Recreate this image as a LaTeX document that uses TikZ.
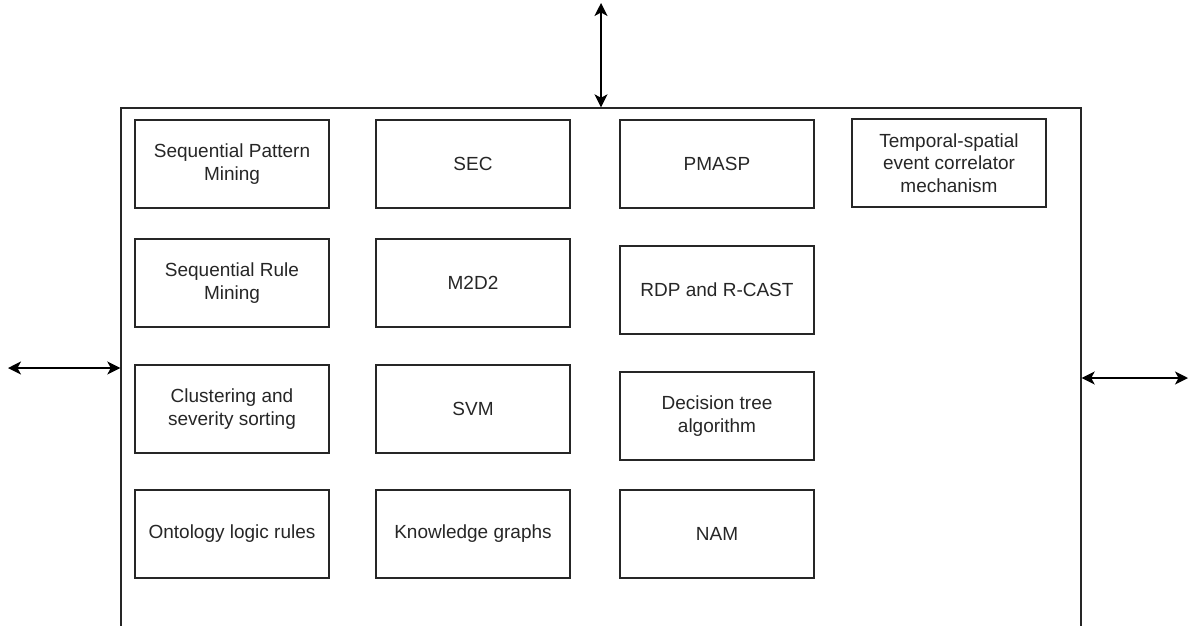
\documentclass[tikz,border=0pt]{standalone}
\usepackage{fontspec}
\setmainfont{Liberation Sans}
\usetikzlibrary{arrows.meta}
\begin{document}
\begin{tikzpicture}[x=1pt,y=-1pt,
  line width=1.4pt,
  box/.style={draw=black!85, minimum width=194pt, minimum height=88pt,
    align=center, inner sep=4pt, text=black!85,
    font=\fontsize{19}{22.5}\selectfont},
  frame/.style={draw=black!85, minimum width=960pt, minimum height=640pt, inner sep=0pt},
  dblarrow/.style={draw=black, line width=1.4pt,
    {Stealth[length=13pt,width=13pt,inset=3.5pt]}-{Stealth[length=13pt,width=13pt,inset=3.5pt]}}]
  \useasboundingbox (0,0) rectangle (1189,625);

  % outer system frame (runs past the lower edge)
  \node[frame] (frame) at (601,428) {};

  % column 1
  \node[box] (spm) at (232,164) {Sequential Pattern\\Mining};
  \node[box] (srm) at (232,283) {Sequential Rule\\Mining};
  \node[box] (css) at (232,409) {Clustering and\\severity sorting};
  \node[box] (olr) at (232,534) {Ontology logic rules};

  % column 2
  \node[box] (sec) at (473,164) {SEC};
  \node[box] (mdd) at (473,283) {M2D2};
  \node[box] (svm) at (473,409) {SVM};
  \node[box] (kg)  at (473,534) {Knowledge graphs};

  % column 3
  \node[box] (pmasp) at (717,164) {PMASP};
  \node[box] (rdp)   at (717,290) {RDP and R-CAST};
  \node[box] (dta)   at (717,416) {Decision tree\\algorithm};
  \node[box] (nam)   at (717,534) {NAM};

  % column 4
  \node[box] (tsec) at (949,163) {Temporal-spatial\\event correlator\\mechanism};

  % external interfaces
  \coordinate (topend)   at (601,3);
  \coordinate (leftend)  at (8,368);
  \coordinate (rightend) at (1188,378);
  \draw[dblarrow] (topend) -- (topend |- frame.north);
  \draw[dblarrow] (leftend) -- (leftend -| frame.west);
  \draw[dblarrow] (rightend -| frame.east) -- (rightend);
\end{tikzpicture}
\end{document}
